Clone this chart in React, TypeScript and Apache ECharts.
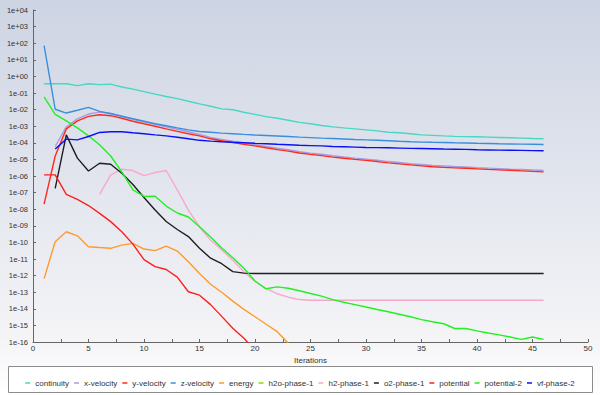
import { useEffect, useRef } from "react";
import * as echarts from "echarts";

const iterations = [1,2,3,4,5,6,7,8,9,10,11,12,13,14,15,16,17,18,19,20,21,22,23,24,25,26,27,28,29,30,31,32,33,34,35,36,37,38,39,40,41,42,43,44,45,46];

const continuity = [3.6e-1,3.6e-1,3.6e-1,2.8e-1,3.6e-1,3.2e-1,3.4e-1,2.3e-1,1.7e-1,1.2e-1,8.5e-2,6.2e-2,4.6e-2,3.2e-2,2.2e-2,1.6e-2,1.1e-2,9.8e-3,6.9e-3,5.2e-3,3.8e-3,3.0e-3,2.3e-3,1.7e-3,1.4e-3,1.1e-3,9.1e-4,7.9e-4,6.9e-4,6.0e-4,5.2e-4,4.3e-4,4.0e-4,3.5e-4,3.0e-4,2.8e-4,2.6e-4,2.45e-4,2.35e-4,2.3e-4,2.2e-4,2.1e-4,2.0e-4,1.9e-4,1.8e-4,1.75e-4];

const xVelocity = [null,6.0e-5,9.3e-4,2.8e-3,5.4e-3,7.1e-3,6.0e-3,4.0e-3,2.6e-3,1.86e-3,1.32e-3,9.3e-4,6.5e-4,4.6e-4,3.2e-4,2.1e-4,1.6e-4,1.26e-4,9.7e-5,7.8e-5,6.0e-5,4.7e-5,3.8e-5,2.95e-5,2.4e-5,2.05e-5,1.66e-5,1.4e-5,1.2e-5,1.04e-5,8.9e-6,7.4e-6,6.5e-6,5.6e-6,4.9e-6,4.3e-6,4.0e-6,3.7e-6,3.5e-6,3.2e-6,3.0e-6,2.8e-6,2.6e-6,2.45e-6,2.3e-6,2.15e-6];

const yVelocity = [2.0e-8,1.6e-5,6.9e-4,2.1e-3,3.9e-3,4.9e-3,4.3e-3,3.0e-3,2.0e-3,1.4e-3,1.0e-3,6.9e-4,4.9e-4,3.5e-4,2.6e-4,1.74e-4,1.32e-4,1.05e-4,8.1e-5,6.5e-5,5.0e-5,3.9e-5,3.16e-5,2.45e-5,2.0e-5,1.7e-5,1.38e-5,1.17e-5,1.0e-5,8.7e-6,7.4e-6,6.2e-6,5.4e-6,4.7e-6,4.1e-6,3.6e-6,3.3e-6,3.1e-6,2.9e-6,2.7e-6,2.5e-6,2.35e-6,2.2e-6,2.05e-6,1.9e-6,1.78e-6];

const zVelocity = [7.2e1,1.05e-2,6.2e-3,9.1e-3,1.35e-2,7.8e-3,5.6e-3,4.0e-3,2.8e-3,2.0e-3,1.4e-3,1.07e-3,7.9e-4,6.0e-4,4.8e-4,4.3e-4,3.8e-4,3.5e-4,3.2e-4,2.95e-4,2.75e-4,2.57e-4,2.4e-4,2.19e-4,2.04e-4,1.9e-4,1.82e-4,1.7e-4,1.58e-4,1.51e-4,1.41e-4,1.32e-4,1.23e-4,1.15e-4,1.1e-4,1.07e-4,1.05e-4,1.0e-4,9.8e-5,9.3e-5,9.1e-5,8.7e-5,8.5e-5,8.3e-5,8.1e-5,7.9e-5];

const energy = [6.6e-13,1.1e-10,4.4e-10,2.5e-10,5.5e-11,4.9e-11,4.4e-11,6.9e-11,8.7e-11,4.0e-11,3.2e-11,6.0e-11,3.0e-11,6.9e-12,1.35e-12,3.0e-13,1.0e-13,2.9e-14,9.3e-15,3.3e-15,1.17e-15,4.2e-16,8.3e-17];

const h2oPhase1: (number | null)[] = [];

const h2Phase1 = [null,null,null,null,null,7.8e-8,1.17e-6,2.57e-6,2.14e-6,1.05e-6,1.62e-6,2.14e-6,1.45e-7,8.9e-9,8.5e-10,1.38e-10,3.5e-11,8.5e-12,1.7e-12,4.4e-13,1.62e-13,8.1e-14,5.0e-14,3.6e-14,3.3e-14,3.3e-14,3.3e-14,3.3e-14,3.3e-14,3.3e-14,3.3e-14,3.3e-14,3.3e-14,3.3e-14,3.3e-14,3.3e-14,3.3e-14,3.3e-14,3.3e-14,3.3e-14,3.3e-14,3.3e-14,3.3e-14,3.3e-14,3.3e-14,3.3e-14];

const o2Phase1 = [null,1.8e-7,3.0e-4,1.2e-5,2.0e-6,5.9e-6,5.1e-6,1.48e-6,3.1e-7,5.1e-8,8.9e-9,1.82e-9,6.0e-10,2.24e-10,4.4e-11,1.12e-11,5.2e-12,1.74e-12,1.41e-12,1.35e-12,1.35e-12,1.35e-12,1.35e-12,1.35e-12,1.35e-12,1.35e-12,1.35e-12,1.35e-12,1.35e-12,1.35e-12,1.35e-12,1.35e-12,1.35e-12,1.35e-12,1.35e-12,1.35e-12,1.35e-12,1.35e-12,1.35e-12,1.35e-12,1.35e-12,1.35e-12,1.35e-12,1.35e-12,1.35e-12,1.35e-12];

const potential = [1.17e-6,1.17e-6,7.9e-8,3.9e-8,1.66e-8,5.6e-9,1.78e-9,4.4e-10,7.9e-11,9.1e-12,3.5e-12,2.34e-12,8.1e-13,1.07e-13,6.6e-14,1.78e-14,3.5e-15,6.8e-16,1.66e-16,3.2e-17];

const potential2 = [5.8e-2,5.2e-3,2.1e-3,7.9e-4,2.6e-4,7.6e-5,1.6e-5,1.78e-6,1.45e-7,5.9e-8,6.0e-8,1.55e-8,5.9e-9,3.4e-9,8.7e-10,2.1e-10,4.6e-11,1.2e-11,2.8e-12,4.7e-13,1.6e-13,2.1e-13,1.74e-13,1.23e-13,8.3e-14,5.8e-14,3.6e-14,2.5e-14,1.8e-14,1.29e-14,9.1e-15,6.6e-15,4.7e-15,3.3e-15,2.24e-15,1.66e-15,1.26e-15,6.5e-16,6.5e-16,4.7e-16,3.5e-16,2.7e-16,2.0e-16,1.45e-16,2.0e-16,1.45e-16];

const vfPhase2 = [null,4.2e-5,1.66e-4,1.51e-4,2.4e-4,4.2e-4,4.6e-4,4.6e-4,4.0e-4,3.5e-4,3.0e-4,2.6e-4,2.14e-4,1.74e-4,1.41e-4,1.26e-4,1.15e-4,1.07e-4,1.0e-4,9.3e-5,8.7e-5,8.1e-5,7.6e-5,7.1e-5,6.8e-5,6.5e-5,6.0e-5,5.8e-5,5.5e-5,5.2e-5,5.1e-5,5.0e-5,4.8e-5,4.6e-5,4.5e-5,4.4e-5,4.2e-5,4.1e-5,4.0e-5,3.8e-5,3.7e-5,3.6e-5,3.55e-5,3.5e-5,3.4e-5,3.3e-5];

const seriesNames = ["continuity","x-velocity","y-velocity","z-velocity","energy","h2o-phase-1","h2-phase-1","o2-phase-1","potential","potential-2","vf-phase-2"];
const seriesValues = [continuity,xVelocity,yVelocity,zVelocity,energy,h2oPhase1,h2Phase1,o2Phase1,potential,potential2,vfPhase2];
const seriesColors = ["#46d8c2","#a99be2","#ff2a1a","#3a8fdc","#ff9a2a","#80e000","#f8a8cc","#1e1e1e","#ff1e1e","#22f022","#0a10f5"];

const xTicks = { min: 0, max: 50, interval: 5 };
const yRange = { min: 1e-16, max: 1e4 };

function pairs(values: (number | null)[]) {
  const out: [number, number][] = [];
  values.forEach((v, i) => {
    if (v != null) out.push([iterations[i], v]);
  });
  return out;
}

function fmtExp(v: number) {
  const e = Math.round(Math.log10(v));
  const s = e >= 0 ? "+" : "-";
  const a = Math.abs(e);
  return "1e" + s + (a < 10 ? "0" + a : "" + a);
}

export default function App() {
  const ref = useRef<HTMLDivElement>(null);
  useEffect(() => {
    if (!ref.current) return;
    const chart = echarts.init(ref.current, null, { renderer: "svg" });
    const font = "Liberation Sans, Arial, sans-serif";
    chart.setOption({
      animation: false,
      backgroundColor: new echarts.graphic.LinearGradient(0, 0, 0, 1, [
        { offset: 0, color: "#cdd4e3" },
        { offset: 0.85, color: "#f4f4f7" },
        { offset: 1, color: "#ffffff" },
      ]),
      textStyle: { fontFamily: font },
      grid: { left: 33, right: 12, top: 10, bottom: 53, containLabel: false },
      xAxis: {
        type: "value",
        min: xTicks.min,
        max: xTicks.max,
        interval: xTicks.interval,
        name: "Iterations",
        nameLocation: "middle",
        nameGap: 9,
        nameTextStyle: { fontSize: 8, color: "#333", fontFamily: font },
        axisLine: { show: true, lineStyle: { color: "#666", width: 1 } },
        axisTick: { show: true, inside: true, length: 3, lineStyle: { color: "#666" } },
        minorTick: { show: true, splitNumber: 2, length: 3, lineStyle: { color: "#666" } },
        axisLabel: { fontSize: 8, color: "#333", margin: 2, fontFamily: font },
        splitLine: { show: false },
      },
      yAxis: {
        type: "log",
        logBase: 10,
        min: yRange.min,
        max: yRange.max,
        interval: 1,
        splitNumber: 20,
        axisLine: { show: true, lineStyle: { color: "#666", width: 1 } },
        axisTick: { show: true, inside: true, length: 3, lineStyle: { color: "#666" } },
        axisLabel: { fontSize: 7.5, color: "#333", margin: 5, fontFamily: font, formatter: fmtExp },
        splitLine: { show: false },
      },
      legend: {
        data: seriesNames,
        left: "center",
        top: 374,
        width: 590,
        icon: "rect",
        itemWidth: 5,
        itemHeight: 1.5,
        itemGap: 5,
        textStyle: { fontSize: 8, color: "#333", fontFamily: font },
      },
      graphic: [
        {
          type: "rect",
          left: 8,
          top: 366,
          z: -1,
          shape: { width: 584, height: 26 },
          style: { fill: "#ffffff", stroke: "#8c8c8c", lineWidth: 1 },
        },
      ],
      series: seriesNames.map((name, k) => ({
        name,
        type: "line",
        data: pairs(seriesValues[k]),
        showSymbol: false,
        symbol: "none",
        clip: true,
        color: seriesColors[k],
        lineStyle: { width: 1.4, color: seriesColors[k] },
      })),
    });
    return () => chart.dispose();
  }, []);
  return (
    <div
      ref={ref}
      style={{ position: "fixed", left: 0, top: 0, width: 600, height: 395 }}
    />
  );
}
